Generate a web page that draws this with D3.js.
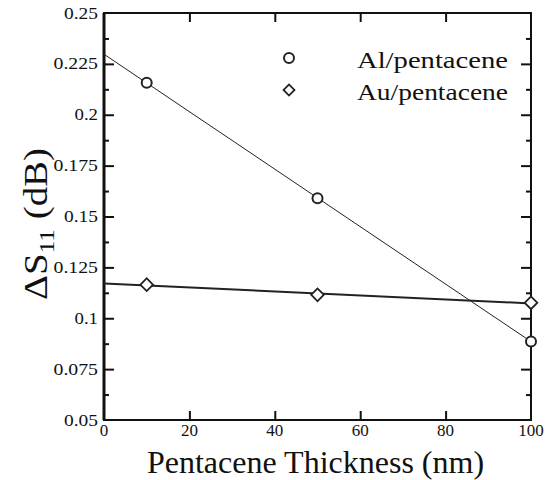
<!DOCTYPE html>
<html><head><meta charset="utf-8">
<script src="https://cdn.jsdelivr.net/npm/d3@7"></script>
<style>body{margin:0;background:#fff}svg{display:block}</style>
</head><body><svg id="c" width="554" height="480"></svg>
<script>
const thickness = [10, 50, 100];
const alValues = [0.2157, 0.159, 0.0886];
const auValues = [0.1165, 0.1115, 0.1076];
const seriesNames = ["Al/pentacene", "Au/pentacene"];
const xTicks = [0, 20, 40, 60, 80, 100];
const yTicks = [0.05, 0.075, 0.1, 0.125, 0.15, 0.175, 0.2, 0.225, 0.25];
const yMinor = [0.0625, 0.0875, 0.1125, 0.1375, 0.1625, 0.1875, 0.2125, 0.2375];

const FONT = "'Liberation Serif', 'Times New Roman', Times, serif";
const svg = d3.select("#c").style("font-family", FONT);
const L = 104, R = 531, T = 13, B = 420;
const x = d3.scaleLinear().domain([0, 100]).range([L, R]);
const y = d3.scaleLinear().domain([0.05, 0.25]).range([B, T]);

function fit(xs, ys) {
  const n = xs.length, mx = d3.mean(xs), my = d3.mean(ys);
  let sxy = 0, sxx = 0;
  for (let i = 0; i < n; i++) { sxy += (xs[i]-mx)*(ys[i]-my); sxx += (xs[i]-mx)**2; }
  const m = sxy / sxx; return v => my + m*(v - mx);
}
const txt = sel => sel.attr("font-family", FONT).attr("fill", "#111");

// axes frame
const g = svg.append("g");
const ax = (sel, axis) => { sel.call(axis); sel.select(".domain").remove(); sel.selectAll("line").attr("stroke", "#111").attr("stroke-width", 2); };
g.append("g").attr("transform", `translate(0,${B})`).call(s => ax(s, d3.axisBottom(x).tickValues(xTicks.slice(1,-1)).tickSize(-9).tickFormat("")));
g.append("g").attr("transform", `translate(0,${T})`).call(s => ax(s, d3.axisTop(x).tickValues(xTicks.slice(1,-1)).tickSize(-9).tickFormat("")));
g.append("g").attr("transform", `translate(${L},0)`).call(s => ax(s, d3.axisLeft(y).tickValues(yTicks.slice(1,-1)).tickSize(-10).tickFormat("")));
g.append("g").attr("transform", `translate(${L},0)`).call(s => ax(s, d3.axisLeft(y).tickValues(yMinor).tickSize(-5).tickFormat("")));
g.append("g").attr("transform", `translate(${R},0)`).call(s => ax(s, d3.axisRight(y).tickValues(yTicks.slice(1,-1)).tickSize(-10).tickFormat("")));
g.append("g").attr("transform", `translate(${R},0)`).call(s => ax(s, d3.axisRight(y).tickValues(yMinor).tickSize(-5).tickFormat("")));
g.append("rect").attr("x", L).attr("y", T).attr("width", R-L).attr("height", B-T)
  .attr("fill", "none").attr("stroke", "#111").attr("stroke-width", 2);
g.append("line").attr("x1", L).attr("x2", L).attr("y1", T).attr("y2", B).attr("stroke", "#111").attr("stroke-width", 3);

// tick labels
svg.append("g").selectAll("text").data(xTicks).join("text").call(txt)
  .attr("x", d => x(d)).attr("y", 436).attr("text-anchor", "middle").attr("font-size", 17).text(d => d);
svg.append("g").selectAll("text").data(yTicks).join("text").call(txt)
  .attr("x", 98).attr("y", d => y(d) + 5.5).attr("text-anchor", "end").attr("font-size", 16.5)
  .attr("textLength", d => (String(d).length - 1) * 10.5 + 2.5).attr("lengthAdjust", "spacingAndGlyphs")
  .text(d => String(d));

// titles
svg.append("text").call(txt).attr("x", (L+R)/2 - 2).attr("y", 473).attr("text-anchor", "middle")
  .attr("font-size", 32).text("Pentacene Thickness (nm)");
const yt = svg.append("text").call(txt).attr("transform", "translate(47,224) rotate(-90)").attr("text-anchor", "middle")
  .attr("font-size", 34).attr("textLength", 152).attr("lengthAdjust", "spacingAndGlyphs");
yt.append("tspan").text("ΔS");
yt.append("tspan").attr("dy", 7).attr("font-size", 22).text("11");
yt.append("tspan").attr("dy", -7).text(" (dB)");

// fit lines
const fAl = fit(thickness, alValues), fAu = fit(thickness, auValues);
const line = d3.line().x(d => x(d[0])).y(d => y(d[1]));
svg.append("path").attr("d", line([[0, fAl(0)], [100, fAl(100)]])).attr("fill", "none").attr("stroke", "#222").attr("stroke-width", 1);
svg.append("path").attr("d", line([[0, fAu(0)], [100, fAu(100)]])).attr("fill", "none").attr("stroke", "#222").attr("stroke-width", 2);

// markers
svg.append("g").selectAll("circle").data(thickness).join("circle")
  .attr("cx", d => x(d)).attr("cy", (d, i) => y(alValues[i])).attr("r", 5)
  .attr("fill", "#fff").attr("stroke", "#222").attr("stroke-width", 2);
svg.append("g").selectAll("path").data(thickness).join("path")
  .attr("transform", (d, i) => `translate(${x(d)},${y(auValues[i])}) rotate(45)`)
  .attr("d", d3.symbol().type(d3.symbolSquare).size(80)())
  .attr("fill", "#fff").attr("stroke", "#222").attr("stroke-width", 1.8);

// legend
svg.append("circle").attr("cx", 289).attr("cy", 58).attr("r", 5).attr("fill", "#fff").attr("stroke", "#222").attr("stroke-width", 2);
svg.append("path").attr("transform", "translate(289,90) rotate(45)").attr("d", d3.symbol().type(d3.symbolSquare).size(60)())
  .attr("fill", "#fff").attr("stroke", "#222").attr("stroke-width", 1.8);
seriesNames.forEach((name, i) => {
  svg.append("text").call(txt).attr("x", 357).attr("y", 68 + 32*i).attr("font-size", 23)
    .attr("textLength", 151).attr("lengthAdjust", "spacingAndGlyphs").text(name);
});
</script></body></html>
